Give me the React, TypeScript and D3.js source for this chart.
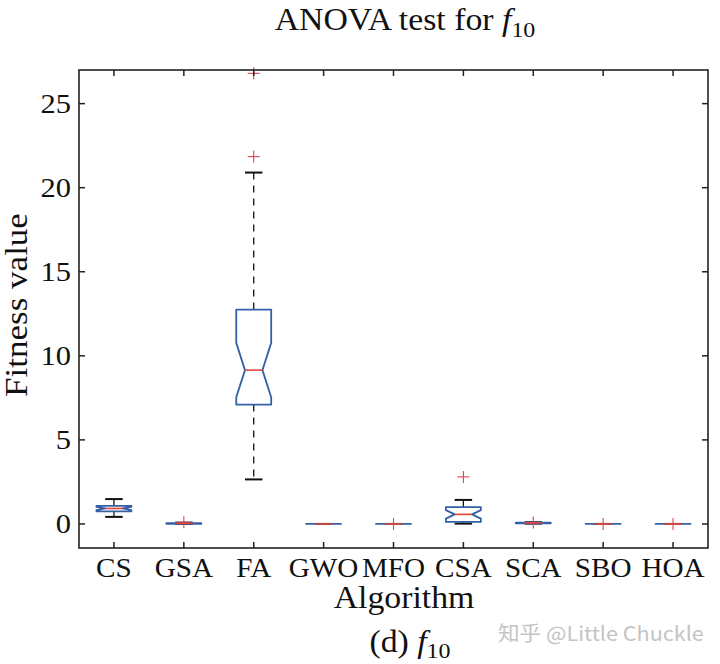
import React from "react";
import * as d3 from "d3";

const categories = ["CS", "GSA", "FA", "GWO", "MFO", "CSA", "SCA", "SBO", "HOA"];
const q1 = [0.75, 0.01, 7.1, 0, 0, 0.12, 0.04, 0, 0];
const median = [0.92, 0.03, 9.15, 0, 0, 0.57, 0.06, 0, 0];
const q3 = [1.08, 0.05, 12.75, 0, 0, 1.0, 0.08, 0, 0];
const whiskerLow = [0.42, 0.0, 2.65, 0, 0, 0.02, 0.02, 0, 0];
const whiskerHigh = [1.48, 0.08, 20.9, 0, 0, 1.43, 0.1, 0, 0];
const outliers: number[][] = [[], [0.1], [21.85, 26.8], [], [0], [2.8], [0.08], [0], [0]];
const yTicks = [0, 5, 10, 15, 20, 25];
const sampleSize = 30;

const W = 720, H = 664;
const L = 79, R = 708, T = 70, B = 548;
const FONT = "'Liberation Serif', 'Times New Roman', serif";
const BLUE = "#3560a6";
const RED = "#e0453a";
const SX = 1.11;

function T2({ x, y, anchor = "middle", size, sx = SX, rotate = 0, children }: any) {
  return (
    <text
      transform={`translate(${x},${y}) rotate(${rotate}) scale(${sx},1)`}
      textAnchor={anchor}
      fontFamily={FONT}
      fontSize={size}
      fill="#111"
    >
      {children}
    </text>
  );
}

export default function App() {
  const x = d3.scaleLinear().domain([0.5, 9.5]).range([L, R]);
  const y = d3.scaleLinear().domain([-1.43, 27.0]).range([B, T]);
  const bw = (x(1.5) - x(1)) * 0.5;

  return (
    <svg width={W} height={H} style={{ position: "absolute", left: 0, top: 0, background: "#fff" }}>
      <rect x={0} y={0} width={W} height={H} fill="#fff" />
      <T2 x={405} y={30} size={31} sx={1.09}>
        ANOVA test for <tspan fontStyle="italic">f</tspan>
        <tspan fontSize={22} dy={7}>10</tspan>
      </T2>

      {categories.map((c, i) => {
        const cx = x(i + 1);
        const hw = bw;
        const iqr = q3[i] - q1[i];
        const n = (1.57 * iqr) / Math.sqrt(sampleSize);
        const nHi = median[i] + n, nLo = median[i] - n;
        const waist = hw / 2;
        const path = d3.path();
        path.moveTo(cx - hw, y(q3[i]));
        path.lineTo(cx + hw, y(q3[i]));
        path.lineTo(cx + hw, y(nHi));
        path.lineTo(cx + waist, y(median[i]));
        path.lineTo(cx + hw, y(nLo));
        path.lineTo(cx + hw, y(q1[i]));
        path.lineTo(cx - hw, y(q1[i]));
        path.lineTo(cx - hw, y(nLo));
        path.lineTo(cx - waist, y(median[i]));
        path.lineTo(cx - hw, y(nHi));
        path.closePath();
        const capW = hw / 2;
        return (
          <g key={c}>
            {whiskerHigh[i] > q3[i] && (
              <line x1={cx} x2={cx} y1={y(q3[i])} y2={y(whiskerHigh[i])} stroke="#111" strokeWidth={1.3} strokeDasharray="7,6" />
            )}
            {whiskerLow[i] < q1[i] && (
              <line x1={cx} x2={cx} y1={y(q1[i])} y2={y(whiskerLow[i])} stroke="#111" strokeWidth={1.3} strokeDasharray="7,6" />
            )}
            <line x1={cx - capW} x2={cx + capW} y1={y(whiskerHigh[i])} y2={y(whiskerHigh[i])} stroke="#111" strokeWidth={2} />
            <line x1={cx - capW} x2={cx + capW} y1={y(whiskerLow[i])} y2={y(whiskerLow[i])} stroke="#111" strokeWidth={2} />
            <path d={path.toString()} fill="none" stroke={BLUE} strokeWidth={1.8} strokeLinejoin="round" />
            <line x1={cx - waist} x2={cx + waist} y1={y(median[i])} y2={y(median[i])} stroke={RED} strokeWidth={1.6} />
            {outliers[i].map((o, k) => (
              <g key={k} stroke="#d9484e" strokeWidth={1.1}>
                <line x1={cx - 6} x2={cx + 6} y1={y(o)} y2={y(o)} />
                <line x1={cx} x2={cx} y1={y(o) - 6} y2={y(o) + 6} />
              </g>
            ))}
          </g>
        );
      })}

      <rect x={L} y={T} width={R - L} height={B - T} fill="none" stroke="#222" strokeWidth={1.6} />
      {categories.map((c, i) => (
        <g key={"xt" + c}>
          <line x1={x(i + 1)} x2={x(i + 1)} y1={B} y2={B - 6} stroke="#222" strokeWidth={1.5} />
          <line x1={x(i + 1)} x2={x(i + 1)} y1={T} y2={T + 6} stroke="#222" strokeWidth={1.5} />
          <T2 x={x(i + 1)} y={577} size={27} sx={1.08}>{c}</T2>
        </g>
      ))}
      {yTicks.map((t) => (
        <g key={"yt" + t}>
          <line x1={L} x2={L + 6} y1={y(t)} y2={y(t)} stroke="#222" strokeWidth={1.5} />
          <line x1={R} x2={R - 6} y1={y(t)} y2={y(t)} stroke="#222" strokeWidth={1.5} />
          <T2 x={71} y={y(t) + 9} anchor="end" size={27} sx={1.13}>{t}</T2>
        </g>
      ))}

      <T2 x={27} y={305} rotate={-90} size={31} sx={1.13}>Fitness value</T2>
      <T2 x={404} y={608} size={31} sx={1.09}>Algorithm</T2>
      <T2 x={410} y={652} size={31} sx={1.09}>
        (d) <tspan fontStyle="italic">f</tspan>
        <tspan fontSize={22} dy={6}>10</tspan>
      </T2>

      <text
        transform={`translate(498,641) scale(1.08,1)`}
        fontFamily="'Noto Sans CJK SC', 'Noto Sans', sans-serif"
        fontSize={20}
        fill="#c4c4c4"
      >
        知乎 @Little Chuckle
      </text>
    </svg>
  );
}
